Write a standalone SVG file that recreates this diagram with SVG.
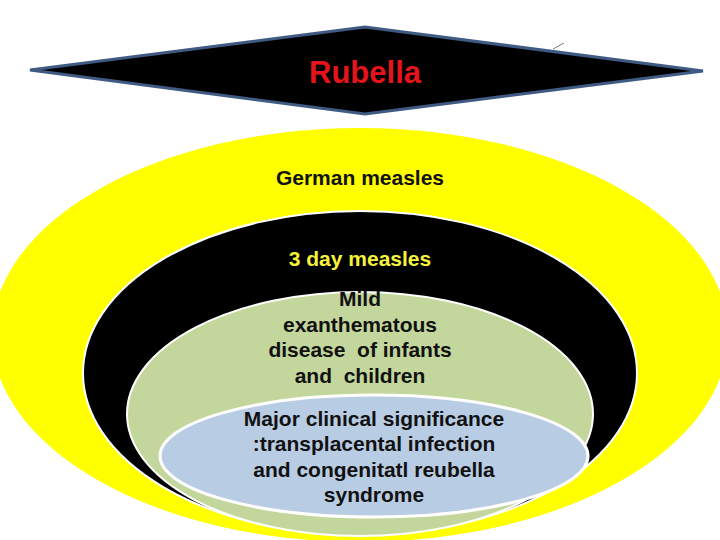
<svg xmlns="http://www.w3.org/2000/svg" width="720" height="540" viewBox="0 0 720 540">
  <style>
    .t { font-family: "Liberation Sans", Arial, sans-serif; font-weight: bold; font-size: 21px; text-anchor: middle; fill: #111111; }
    .title { font-size: 31px; fill: #e3141b; }
    .yel { fill: #f7f23a; }
  </style>
  <rect x="0" y="0" width="720" height="540" fill="#ffffff"/>

  <g id="title">
    <polygon points="30,70 365,27 703,71 365,114" fill="#000000" stroke="#3f5b83" stroke-width="3" stroke-linejoin="miter"/>
    <line x1="553" y1="49" x2="564" y2="43" stroke="#777777" stroke-width="1"/>
    <text class="t title" x="365" y="83">Rubella</text>
  </g>

  <g id="german-measles">
    <ellipse cx="360" cy="335" rx="368" ry="207" fill="#ffff00"/>
    <text class="t" x="360" y="185">German measles</text>
  </g>

  <g id="three-day-measles">
    <ellipse cx="360" cy="373" rx="277" ry="162" fill="#000000" stroke="#ffffff" stroke-width="2"/>
    <text class="t yel" x="360" y="266">3 day measles</text>
  </g>

  <g id="mild-disease">
    <ellipse cx="360" cy="414" rx="233" ry="122" fill="#c3d69b" stroke="#ffffff" stroke-width="2"/>
    <text class="t" x="360" y="306">Mild</text>
    <text class="t" x="360" y="332">exanthematous</text>
    <text class="t" x="360" y="357" xml:space="preserve">disease  of infants</text>
    <text class="t" x="360" y="383" xml:space="preserve">and  children</text>
  </g>

  <g id="clinical-significance">
    <ellipse cx="374" cy="456" rx="214" ry="61" fill="#b8cce4" stroke="#ffffff" stroke-width="3"/>
    <text class="t" x="374" y="426">Major clinical significance</text>
    <text class="t" x="374" y="451">:transplacental infection</text>
    <text class="t" x="374" y="477">and congenitatl reubella</text>
    <text class="t" x="374" y="502">syndrome</text>
  </g>
</svg>
